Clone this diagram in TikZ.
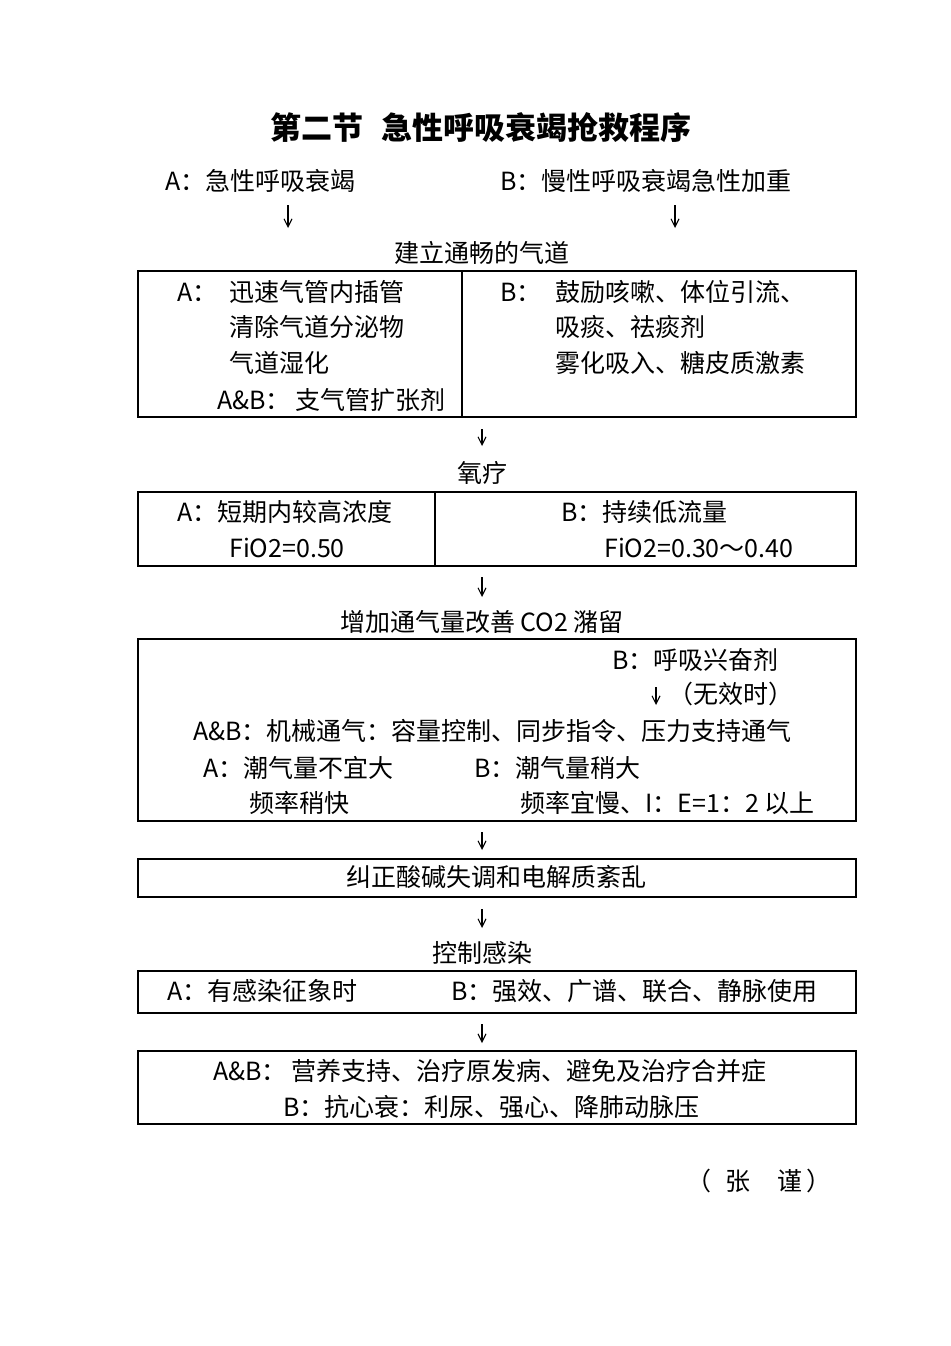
\documentclass[tikz,border=0pt]{standalone}
\usepackage{fontspec}
\setmainfont{Noto Sans CJK SC}
\usetikzlibrary{arrows.meta}
\begin{document}
\begin{tikzpicture}[x=1pt,y=-1pt,
  txt/.style={inner sep=0pt, anchor=base west, font=\fontsize{25}{30}\selectfont},
  ctxt/.style={inner sep=0pt, anchor=base, font=\fontsize{25}{30}\selectfont},
  titletxt/.style={inner sep=0pt, anchor=base, font=\fontsize{31}{36}\selectfont\bfseries},
  box/.style={draw, line width=2pt, inner sep=0pt, anchor=north west, minimum width=718pt},
  arr/.style={-{Straight Barb[length=8pt,width=8pt]}, line width=1.1pt},
  divider/.style={line width=2pt}]
\useasboundingbox[fill=white] (0,0) rectangle (950,1346);
\coordinate (mx) at (482,0);

% title
\node[titletxt] (title) at (481,139) {第二节\hspace{0.6em}急性呼吸衰竭抢救程序};

% A / B headers
\node[txt] (lblA) at (165,190) {A：急性呼吸衰竭};
\node[txt] (lblB) at (500,190) {B：慢性呼吸衰竭急性加重};
\node[ctxt] (est) at (482,262) {建立通畅的气道};
\coordinate (tA) at (288,0);
\coordinate (tB) at (675,0);
\draw[arr, shorten <=15pt, shorten >=34pt] (tA |- lblA.base) -- (tA |- est.base);
\draw[arr, shorten <=15pt, shorten >=34pt] (tB |- lblB.base) -- (tB |- est.base);

% box 1
\node[box, minimum height=146pt] (b1) at (137,270) {};
\coordinate (d1) at (462,0);
\draw[divider] (d1 |- b1.north) -- (d1 |- b1.south);
\node[txt] (b1A) at (177,301) {A：};
\node[txt] (b1A1) at (229,301) {迅速气管内插管};
\node[txt] (b1A2) at (229,336) {清除气道分泌物};
\node[txt] (b1A3) at (229,372) {气道湿化};
\node[txt] (b1AB) at (217,409) {A\&B：};
\node[txt] (b1AB1) at (295,409) {支气管扩张剂};
\node[txt] (b1B) at (500,301) {B：};
\node[txt] (b1B1) at (555,301) {鼓励咳嗽、体位引流、};
\node[txt] (b1B2) at (555,336) {吸痰、祛痰剂};
\node[txt] (b1B3) at (555,372) {雾化吸入、糖皮质激素};

% oxygen
\node[ctxt] (oxy) at (482,482) {氧疗};
\draw[arr, shorten <=11pt, shorten >=36pt] (mx |- b1.south) -- (mx |- oxy.base);

% box 2
\node[box, minimum height=74pt] (b2) at (137,491) {};
\coordinate (d2) at (435,0);
\draw[divider] (d2 |- b2.north) -- (d2 |- b2.south);
\node[txt] (b2A) at (177,521) {A：短期内较高浓度};
\node[txt] (b2A1) at (229,557) {FiO2=0.50};
\node[txt] (b2B) at (561,521) {B：持续低流量};
\node[txt] (b2B1) at (604,557) {FiO2=0.30～0.40};

% ventilation
\node[ctxt] (vent) at (482,631) {增加通气量改善 CO2 潴留};
\draw[arr, shorten <=10pt, shorten >=34pt] (mx |- b2.south) -- (mx |- vent.base);

% box 3
\node[box, minimum height=182pt] (b3) at (137,638) {};
\node[txt] (b3B) at (612,669) {B：呼吸兴奋剂};
\node[txt] (b3N) at (668,703) {（无效时）};
\coordinate (ia) at (656,0);
\draw[arr, shorten <=18pt] (ia |- b3B.base) -- ([yshift=-2pt]ia |- b3N.base);
\node[txt] (b3AB) at (193,740) {A\&B：机械通气：容量控制、同步指令、压力支持通气};
\node[txt] (b3A) at (203,777) {A：潮气量不宜大};
\node[txt] (b3Bb) at (474,777) {B：潮气量稍大};
\node[txt] (b3A1) at (249,812) {频率稍快};
\node[txt] (b3B1) at (520,812) {频率宜慢、I：E=1：2 以上};

% box 4
\node[box, minimum height=38pt] (b4) at (137,858) {};
\node[ctxt] (b4t) at (496,886) {纠正酸碱失调和电解质紊乱};
\draw[arr, shorten <=10pt, shorten >=8pt] (mx |- b3.south) -- (mx |- b4.north);

% infection
\node[ctxt] (ctrl) at (482,962) {控制感染};
\draw[arr, shorten <=11pt, shorten >=34pt] (mx |- b4.south) -- (mx |- ctrl.base);

% box 5
\node[box, minimum height=42pt] (b5) at (137,970) {};
\node[txt] (b5A) at (167,1000) {A：有感染征象时};
\node[txt] (b5B) at (451,1000) {B：强效、广谱、联合、静脉使用};

% box 6
\node[box, minimum height=73pt] (b6) at (137,1050) {};
\draw[arr, shorten <=10pt, shorten >=7pt] (mx |- b5.south) -- (mx |- b6.north);
\node[txt] (b6AB) at (213,1080) {A\&B：};
\node[txt] (b6AB1) at (291,1080) {营养支持、治疗原发病、避免及治疗合并症};
\node[txt] (b6B) at (283,1116) {B：抗心衰：利尿、强心、降肺动脉压};

% author
\node[txt] (au1) at (686,1190) {（};
\node[txt] (au2) at (725,1190) {张};
\node[txt] (au3) at (777,1190) {谨};
\node[txt] (au4) at (806,1190) {）};
\end{tikzpicture}
\end{document}
